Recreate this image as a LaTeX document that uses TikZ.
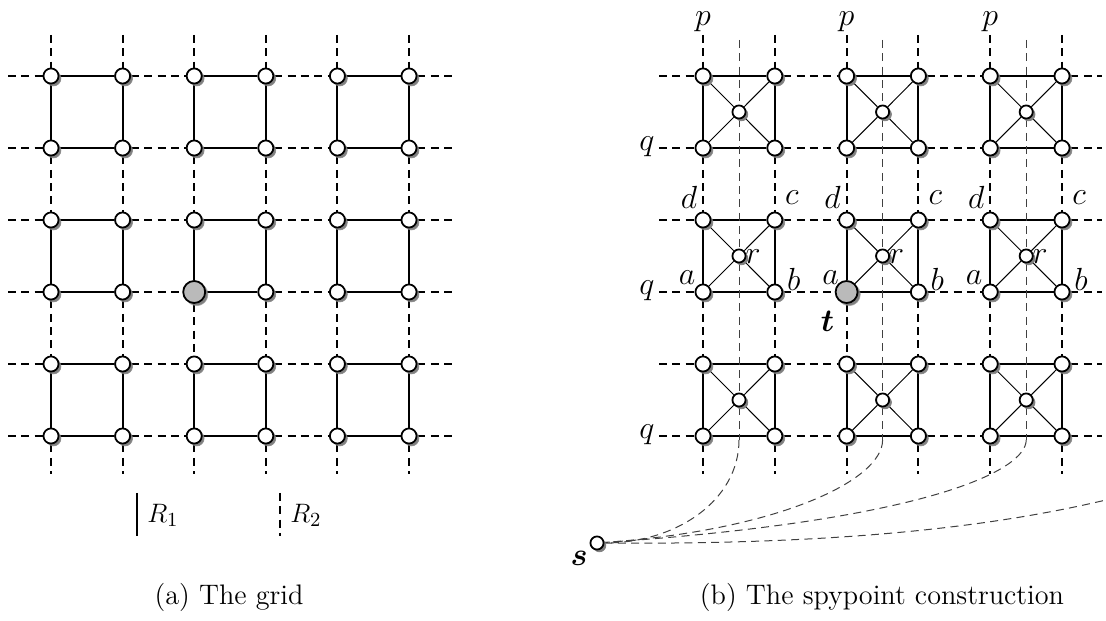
\documentclass[tikz,border=0pt]{standalone}
\usepackage{amsmath}
\usetikzlibrary{shadows,backgrounds,calc}

\begin{document}
\begin{tikzpicture}[x=0.45pt,y=-0.45pt,
  vtx/.style={circle,draw,fill=white,line width=0.8pt,inner sep=0pt,minimum size=6.8pt,
    circular drop shadow={shadow xshift=0.9pt,shadow yshift=-0.9pt,shadow scale=1.1}},
  hub/.style={vtx,minimum size=5.9pt},
  term/.style={vtx,fill=black!27,minimum size=9.9pt},
  rim/.style={line width=0.9pt},
  grid/.style={line width=0.85pt,dash pattern=on 3.6pt off 2.4pt},
  spy/.style={black!75,line width=0.45pt,dash pattern=on 3.6pt off 2.4pt},
  diag/.style={line width=0.45pt},
  lbl/.style={inner sep=1pt,font=\fontsize{14}{16}\selectfont}]
\useasboundingbox (0,0) rectangle (1106,621);

% the grid
\foreach \i in {1,...,6}{
  \foreach \j in {1,...,6}{
    \ifnum\i\j=34 \def\kind{term}\else\def\kind{vtx}\fi
    \node[\kind] (g-\i-\j) at ({51+(\i-1)*71.6},{76+(\j-1)*72}) {};
  }
}
\foreach \j in {1,...,6}{
  \coordinate (gl-\j) at (8,{76+(\j-1)*72});
  \coordinate (gr-\j) at (452,{76+(\j-1)*72});
}
\foreach \i in {1,...,6}{
  \coordinate (gt-\i) at ({51+(\i-1)*71.6},35);
  \coordinate (gb-\i) at ({51+(\i-1)*71.6},474);
}

% the spypoint construction
\foreach \i in {1,...,6}{
  \foreach \j in {1,...,6}{
    \ifnum\i\j=34 \def\kind{term}\else\def\kind{vtx}\fi
    \node[\kind] (w-\i-\j) at ({703+(\i-1)*71.8},{76+(\j-1)*72}) {};
  }
}
\foreach \k in {1,2,3}{
  \foreach \l in {1,2,3}
    \node[hub] (c-\k-\l) at ({739+(\k-1)*143.6},{112+(\l-1)*144}) {};
}
\foreach \j in {1,...,6}{
  \coordinate (wl-\j) at (659,{76+(\j-1)*72});
  \coordinate (wr-\j) at (1102,{76+(\j-1)*72});
}
\foreach \i in {1,...,6}{
  \coordinate (wt-\i) at ({703+(\i-1)*71.8},35);
  \coordinate (wb-\i) at ({703+(\i-1)*71.8},474);
}
\foreach \k in {1,2,3}{
  \coordinate (st-\k) at ({739+(\k-1)*143.6},40);
  \coordinate (sb-\k) at ({739+(\k-1)*143.6},440);
}
\node[hub] (s) at (597,543) {};
\coordinate (se) at (1106,500);

\begin{scope}[on background layer]
\foreach \j in {1,...,6}
  \draw[grid] (gl-\j) -- (g-1-\j) (g-2-\j) -- (g-3-\j) (g-4-\j) -- (g-5-\j) (g-6-\j) -- (gr-\j);
\foreach \i in {1,...,6}
  \draw[grid] (gt-\i) -- (g-\i-1) (g-\i-2) -- (g-\i-3) (g-\i-4) -- (g-\i-5) (g-\i-6) -- (gb-\i);
\foreach \a/\b in {1/2,3/4,5/6}{
  \foreach \c/\d in {1/2,3/4,5/6}
    \draw[rim] (g-\a-\c) -- (g-\b-\c) -- (g-\b-\d) -- (g-\a-\d) -- (g-\a-\c);
}

\foreach \j in {1,...,6}
  \draw[grid] (wl-\j) -- (w-1-\j) (w-2-\j) -- (w-3-\j) (w-4-\j) -- (w-5-\j) (w-6-\j) -- (wr-\j);
\foreach \i in {1,...,6}
  \draw[grid] (wt-\i) -- (w-\i-1) (w-\i-2) -- (w-\i-3) (w-\i-4) -- (w-\i-5) (w-\i-6) -- (wb-\i);
\foreach \k [evaluate=\k as \a using int(2*\k-1), evaluate=\k as \b using int(2*\k)] in {1,2,3}{
  \foreach \l [evaluate=\l as \c using int(2*\l-1), evaluate=\l as \d using int(2*\l)] in {1,2,3}{
    \draw[rim] (w-\a-\c) -- (w-\b-\c) -- (w-\b-\d) -- (w-\a-\d) -- (w-\a-\c);
    \draw[diag] (w-\a-\c) -- (c-\k-\l) -- (w-\b-\d) (w-\b-\c) -- (c-\k-\l) -- (w-\a-\d);
  }
}

% spy paths
\foreach \k in {1,2,3}
  \draw[spy] (st-\k) -- (c-\k-1) -- (c-\k-2) -- (c-\k-3) -- (sb-\k);
\draw[spy] (sb-1) .. controls +(0,60) and +(80,0) .. (s);
\draw[spy] (sb-2) .. controls +(0,40) and +(183,-13) .. (s);
\draw[spy] (sb-3) .. controls +(0,30) and +(333,-23) .. (s);
\draw[spy] (s) .. controls +(253,2) and +(-106,25) .. (se);
\end{scope}

% labels
\foreach \k in {1,2,3}
  \node[lbl] (p-\k) at ({703+(\k-1)*143.6},22) {$p$};
\foreach \l in {1,2,3}
  \node[lbl] (q-\l) at (647,{147+(\l-1)*144}) {$q$};
\foreach \k [evaluate=\k as \a using int(2*\k-1), evaluate=\k as \b using int(2*\k)] in {1,2,3}{
  \node[lbl] (a-\k) at ($(w-\a-4)+(-16,-14)$) {$a$};
  \node[lbl] (b-\k) at ($(w-\b-4)+(19,-13)$) {$b$};
  \node[lbl] (cc-\k) at ($(w-\b-3)+(17,-22)$) {$c$};
  \node[lbl] (d-\k) at ($(w-\a-3)+(-14,-23)$) {$d$};
  \node[lbl] (r-\k) at ($(c-\k-2)+(14,1)$) {$r$};
}
\node[lbl] (t) at ($(w-3-4)+(-19,29)$) {$\boldsymbol{t}$};
\node[lbl] (s-lbl) at ($(s)+(-18,15)$) {$\boldsymbol{s}$};

% legend
\coordinate (l1t) at (137,493);
\coordinate (l1b) at (137,536);
\coordinate (l2t) at (280,493);
\coordinate (l2b) at (280,536);
\draw[rim] (l1t) -- (l1b);
\draw[grid] (l2t) -- (l2b);
\node[font=\fontsize{13}{15}\selectfont] (R1) at (163,515) {$R_1$};
\node[font=\fontsize{13}{15}\selectfont] (R2) at (306,515) {$R_2$};

% captions
\node[font=\fontsize{12.7}{15}\selectfont] (cap-a) at (229,597) {(a) The grid};
\node[font=\fontsize{12.7}{15}\selectfont] (cap-b) at (882,597) {(b) The spypoint construction};
\end{tikzpicture}
\end{document}
